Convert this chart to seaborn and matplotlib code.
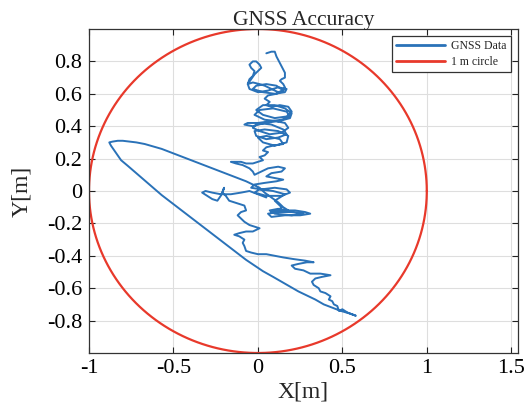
import numpy as np
import pandas as pd
import matplotlib
matplotlib.use("Agg")
import matplotlib.pyplot as plt
import seaborn as sns

# ---- data, GNSS track in segments ----
top_hook_x = [0.05, 0.08, 0.10, 0.11, 0.12, 0.13, 0.14, 0.15, 0.16, 0.16, 0.14, 0.13, 0.15, 0.16, 0.15, 0.12]
top_hook_y = [0.85, 0.86, 0.86, 0.83, 0.81, 0.79, 0.77, 0.75, 0.73, 0.70, 0.69, 0.68, 0.66, 0.64, 0.62, 0.61]

left_lobe_x = [0.08, 0.04, 0.01, -0.03, -0.06, -0.05, -0.03, -0.02, -0.04, -0.05, -0.03, -0.01, 0.01, 0.02, 0.00, -0.02, -0.04, -0.06, -0.05]
left_lobe_y = [0.63, 0.65, 0.66, 0.67, 0.66, 0.69, 0.71, 0.74, 0.76, 0.78, 0.80, 0.80, 0.78, 0.76, 0.74, 0.72, 0.69, 0.66, 0.63]

loops_a_x = [0.00, 0.06, 0.12, 0.17, 0.16, 0.10, 0.03, -0.03, -0.01, 0.05, 0.11, 0.15, 0.11, 0.06]
loops_a_y = [0.61, 0.62, 0.64, 0.63, 0.61, 0.60, 0.61, 0.63, 0.65, 0.66, 0.65, 0.62, 0.60, 0.59]

neck_a_x = [0.04, 0.07, 0.05, 0.08]
neck_a_y = [0.57, 0.55, 0.53, 0.52]

loops_b_x = [0.13, 0.18, 0.20, 0.17, 0.10, 0.03, -0.01, 0.03, 0.10, 0.16, 0.20, 0.19, 0.12, 0.04, -0.02, 0.01, 0.09, 0.17, 0.19, 0.14]
loops_b_y = [0.53, 0.52, 0.49, 0.46, 0.45, 0.47, 0.50, 0.53, 0.53, 0.51, 0.48, 0.45, 0.43, 0.44, 0.47, 0.50, 0.51, 0.49, 0.46, 0.44]

loops_c_x = [0.07, 0.00, -0.06, -0.08, -0.03, 0.04, 0.11, 0.16, 0.18, 0.14, 0.07, 0.01, -0.03, 0.00, 0.08, 0.15, 0.17]
loops_c_y = [0.43, 0.42, 0.42, 0.41, 0.40, 0.42, 0.43, 0.42, 0.39, 0.36, 0.35, 0.37, 0.39, 0.42, 0.41, 0.38, 0.35]

loops_d_x = [0.12, 0.05, -0.01, -0.02, 0.04, 0.12, 0.18, 0.17, 0.10, 0.03, 0.00, 0.05, 0.13, 0.15, 0.09]
loops_d_y = [0.33, 0.32, 0.34, 0.37, 0.38, 0.37, 0.34, 0.30, 0.28, 0.30, 0.33, 0.34, 0.32, 0.29, 0.28]

neck_b_x = [0.05, 0.03, 0.06, 0.04, 0.01, 0.03]
neck_b_y = [0.27, 0.25, 0.24, 0.22, 0.21, 0.19]

branch_x = [0.00, -0.03, -0.07, -0.10, -0.14, -0.16, -0.13, -0.09, -0.05, -0.03, -0.02]
branch_y = [0.18, 0.17, 0.17, 0.18, 0.18, 0.18, 0.17, 0.16, 0.14, 0.12, 0.10]

loops_e_x = [0.02, 0.06, 0.12, 0.16, 0.14, 0.08, 0.05, 0.10, 0.15, 0.11]
loops_e_y = [0.12, 0.14, 0.15, 0.14, 0.12, 0.11, 0.09, 0.08, 0.07, 0.06]

loops_f_x = [0.04, -0.02, -0.04, 0.02, 0.10, 0.17, 0.19, 0.14, 0.05, -0.02, 0.01, 0.09, 0.16, 0.13]
loops_f_y = [0.05, 0.04, 0.02, 0.01, 0.02, 0.01, -0.01, -0.03, -0.03, -0.01, 0.01, 0.00, -0.02, -0.04]

descent_x = [0.10, 0.12, 0.14, 0.12]
descent_y = [-0.06, -0.08, -0.10, -0.12]

cluster_x = [0.08, 0.15, 0.22, 0.28, 0.31, 0.25, 0.16, 0.08, 0.06, 0.12, 0.20, 0.27, 0.20, 0.10, 0.07, 0.12, 0.18, 0.15]
cluster_y = [-0.13, -0.12, -0.12, -0.13, -0.14, -0.15, -0.15, -0.16, -0.14, -0.13, -0.13, -0.14, -0.15, -0.14, -0.12, -0.11, -0.12, -0.10]

return_x = [0.12, 0.08, 0.04, 0.01, -0.03, -0.07]
return_y = [-0.07, -0.04, -0.01, 0.02, 0.04, 0.06]

upper_edge_x = [-0.12, -0.17, -0.22, -0.27, -0.32, -0.37, -0.42, -0.47, -0.52, -0.57, -0.62, -0.67, -0.72, -0.76, -0.80, -0.83, -0.86, -0.88]
upper_edge_y = [0.08, 0.10, 0.12, 0.14, 0.16, 0.18, 0.20, 0.22, 0.24, 0.26, 0.275, 0.29, 0.30, 0.305, 0.31, 0.31, 0.305, 0.30]

lower_edge_x = [-0.87, -0.85, -0.83, -0.81, -0.77, -0.72, -0.67, -0.62, -0.57, -0.52, -0.47, -0.42, -0.37, -0.32, -0.27, -0.22,
                -0.17, -0.12, -0.07, -0.02, 0.03, 0.09, 0.14, 0.19, 0.24, 0.29, 0.34, 0.39, 0.44, 0.49, 0.54, 0.58]
lower_edge_y = [0.28, 0.25, 0.22, 0.19, 0.155, 0.11, 0.065, 0.02, -0.025, -0.065, -0.105, -0.145, -0.185, -0.225, -0.265, -0.305,
                -0.345, -0.385, -0.425, -0.46, -0.495, -0.53, -0.56, -0.59, -0.62, -0.645, -0.67, -0.70, -0.72, -0.74, -0.755, -0.77]

zigzag_x = [0.53, 0.50, 0.48, 0.47, 0.45, 0.44, 0.42, 0.43, 0.40, 0.37, 0.36, 0.33, 0.32, 0.34, 0.38, 0.43, 0.37,
            0.31, 0.27, 0.22, 0.20, 0.24, 0.29, 0.33, 0.28, 0.21, 0.15, 0.10, 0.05, 0.00, -0.04, -0.07, -0.08, -0.09,
            -0.08, -0.11, -0.14, -0.11, -0.07, -0.03, 0.01, -0.02, -0.05, -0.08, -0.10, -0.12, -0.10, -0.07, -0.08,
            -0.11, -0.14, -0.17, -0.19, -0.21, -0.20, -0.22, -0.24, -0.27, -0.30, -0.33, -0.31, -0.27, -0.22, -0.16,
            -0.10, -0.05, 0.00, 0.05]
zigzag_y = [-0.75, -0.73, -0.74, -0.71, -0.70, -0.68, -0.67, -0.65, -0.63, -0.62, -0.60, -0.58, -0.56, -0.54, -0.53, -0.52, -0.51,
            -0.51, -0.49, -0.48, -0.46, -0.45, -0.44, -0.44, -0.43, -0.42, -0.41, -0.40, -0.39, -0.39, -0.38, -0.37, -0.34, -0.32,
            -0.30, -0.28, -0.27, -0.26, -0.25, -0.25, -0.23, -0.22, -0.21, -0.19, -0.17, -0.15, -0.13, -0.12, -0.09,
            -0.08, -0.07, -0.06, -0.03, -0.01, 0.02, -0.03, -0.06, -0.05, -0.03, -0.01, 0.00, -0.01, -0.02, -0.02,
            -0.01, 0.00, -0.02, -0.04]

segments_x = [top_hook_x, left_lobe_x, loops_a_x, neck_a_x, loops_b_x, loops_c_x, loops_d_x, neck_b_x,
              branch_x, loops_e_x, loops_f_x, descent_x, cluster_x, return_x, upper_edge_x, lower_edge_x, zigzag_x]
segments_y = [top_hook_y, left_lobe_y, loops_a_y, neck_a_y, loops_b_y, loops_c_y, loops_d_y, neck_b_y,
              branch_y, loops_e_y, loops_f_y, descent_y, cluster_y, return_y, upper_edge_y, lower_edge_y, zigzag_y]
gnss_x = [v for seg in segments_x for v in seg]
gnss_y = [v for seg in segments_y for v in seg]
assert len(gnss_x) == len(gnss_y)

circle_radius = 1.0
x_ticks = [-1, -0.5, 0, 0.5, 1, 1.5]
x_tick_labels = ["-1", "-0.5", "0", "0.5", "1", "1.5"]
y_ticks = [-0.8, -0.6, -0.4, -0.2, 0, 0.2, 0.4, 0.6, 0.8]
y_tick_labels = ["-0.8", "-0.6", "-0.4", "-0.2", "0", "0.2", "0.4", "0.6", "0.8"]
title = "GNSS Accuracy"
legend_labels = ["GNSS Data", "1 m circle"]

# ---- style ----
sns.set_style("ticks")
plt.rcParams["font.family"] = ["Liberation Serif", "DejaVu Serif"]

fig = plt.figure(figsize=(5.28, 4.08), dpi=100)
ax = fig.add_axes([89 / 528, 1 - 353 / 408, (518 - 89) / 528, (353 - 29) / 408])

df = pd.DataFrame({"x": gnss_x, "y": gnss_y})
sns.lineplot(data=df, x="x", y="y", sort=False, estimator=None, ax=ax,
             color="#2a72b8", linewidth=1.4, label=legend_labels[0])

theta = np.linspace(0, 2 * np.pi, 400)
circ = pd.DataFrame({"x": circle_radius * np.cos(theta),
                     "y": circle_radius * np.sin(theta)})
sns.lineplot(data=circ, x="x", y="y", sort=False, estimator=None, ax=ax,
             color="#e8392b", linewidth=1.6, label=legend_labels[1])

ax.set_xlim(-1, 1.54)
ax.set_ylim(-1, 1)
ax.set_xticks(x_ticks)
ax.set_xticklabels(x_tick_labels)
ax.set_yticks(y_ticks)
ax.set_yticklabels(y_tick_labels)
ax.grid(True, color="#dedede", linewidth=0.8)
ax.set_axisbelow(True)
ax.tick_params(direction="in", length=4, width=0.8, top=True, right=True,
               labelsize=16, colors="#222222", labelcolor="black")
ax.tick_params(axis="x", pad=4)
ax.tick_params(axis="y", pad=5)
for s in ax.spines.values():
    s.set_color("#333333")
    s.set_linewidth(0.9)

ax.set_title(title, fontsize=15.5, pad=3)
ax.set_xlabel("X[m]", fontsize=17)
ax.set_ylabel("Y[m]", fontsize=17)
ax.xaxis.set_label_coords(0.5, -0.088)
ax.yaxis.set_label_coords(-0.133, 0.5)

leg = ax.legend(loc="upper right", fontsize=8.5, frameon=True, fancybox=False,
                edgecolor="#333333", framealpha=1, handlelength=4.2,
                borderpad=0.35, labelspacing=0.3, handletextpad=0.5,
                borderaxespad=0.6)
leg.get_frame().set_linewidth(0.9)
for line in leg.get_lines():
    line.set_linewidth(2)

fig.savefig("out.png", dpi=100)
